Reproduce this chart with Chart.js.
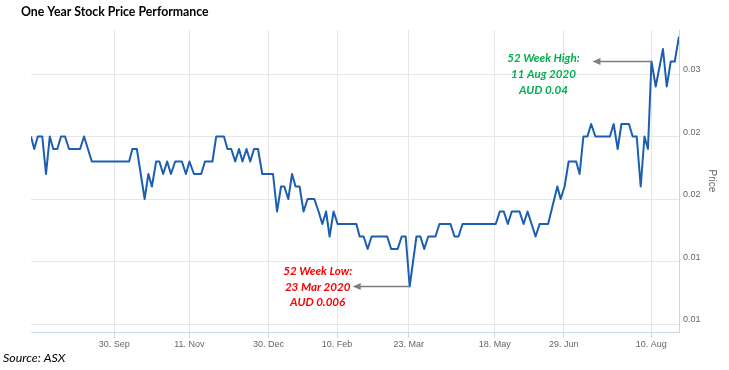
<!DOCTYPE html>
<html>
<head>
<meta charset="utf-8">
<script src="https://cdn.jsdelivr.net/npm/chart.js@4"></script>
<style>
  body { margin: 0; background: #fff; }
  #wrap { width: 729px; height: 370px; }
</style>
</head>
<body>
<div id="wrap"><canvas id="priceChart" width="729" height="370"></canvas></div>
<script>
// trading day index (x) and closing price in AUD (y)
const dayIndex = [
    0, 1.3, 2.7, 4.5, 6, 7.5, 8.9, 10.5, 12, 13.6, 15.2, 19.6, 21.2, 24.3,
    39.2, 40.5, 42.3, 45.4, 46.9, 48.3, 50, 51.3, 52.8, 54.4, 55.9, 57.6, 60.3, 61.9,
    63.3, 65.1, 68, 69.5, 72.5, 74, 77.1, 78.5, 80, 81.6, 83.1, 84.5, 86.1, 87.6,
    89.1, 90.7, 92.4, 96.7, 98.3, 99.9, 101.2, 102.8, 104.3, 105.7, 107.3, 108.9, 110.5,
    113.2, 114.9, 116.4, 117.9, 119.3, 120.9, 122.5, 130, 131.3, 132.9, 134.5, 136.1,
    142.3, 143.9, 146.5, 148.1, 149.7, 151.3, 154, 155.6, 157.1, 158.7, 161.6, 163.2,
    167.6, 169.2, 170.8, 172.4, 185.7, 187.3, 188.9, 190.5, 192.1, 195.2, 196.8, 198.4,
    200, 201.6, 203.2, 206.6, 210.3, 211.6, 213.2, 214.8, 217.8, 219.2, 220.7, 222.3,
    223.8, 225.5, 231.3, 232.8, 234.4, 235.9, 238.9, 240.4, 242, 243.6, 245.1, 246.5,
    247.9, 249.6, 252.5, 254, 255.6, 257.2, 258.9
];
const price = [
    0.020, 0.019, 0.020, 0.020, 0.017, 0.020, 0.019, 0.019, 0.020, 0.020, 0.019, 0.019, 0.020, 0.018,
    0.018, 0.019, 0.019, 0.015, 0.017, 0.016, 0.018, 0.018, 0.017, 0.018, 0.017, 0.018, 0.018, 0.017,
    0.018, 0.017, 0.017, 0.018, 0.018, 0.020, 0.020, 0.019, 0.019, 0.018, 0.019, 0.018, 0.019, 0.018,
    0.019, 0.019, 0.017, 0.017, 0.014, 0.016, 0.016, 0.015, 0.017, 0.016, 0.016, 0.014, 0.015,
    0.015, 0.014, 0.013, 0.014, 0.012, 0.014, 0.013, 0.013, 0.012, 0.012, 0.011, 0.012,
    0.012, 0.011, 0.011, 0.012, 0.012, 0.008, 0.012, 0.012, 0.011, 0.012, 0.012, 0.013,
    0.013, 0.012, 0.012, 0.013, 0.013, 0.014, 0.014, 0.013, 0.014, 0.014, 0.013, 0.014,
    0.013, 0.012, 0.013, 0.013, 0.016, 0.015, 0.016, 0.018, 0.018, 0.017, 0.020, 0.020,
    0.021, 0.020, 0.020, 0.021, 0.019, 0.021, 0.021, 0.020, 0.020, 0.016, 0.020, 0.019,
    0.026, 0.024, 0.027, 0.024, 0.026, 0.026, 0.028
];

const xTickPos = [33.3, 63.3, 94.9, 122.3, 150.9, 185.3, 212.9, 247.8];
const xTickLabels = ['30. Sep', '11. Nov', '30. Dec', '10. Feb', '23. Mar', '18. May', '29. Jun', '10. Aug'];
const yTickPos = [0.005, 0.01, 0.015, 0.02, 0.025];
const yTickLabels = ['0.01', '0.01', '0.02', '0.02', '0.03'];

const callouts = [
    { day: 247.9, price: 0.026, lines: ['52 Week High:', '11 Aug 2020', 'AUD 0.04'], color: '#00b050', arrow: 59, dx: -108, dy: -3 },
    { day: 151.3, price: 0.008, lines: ['52 Week Low:', '23 Mar 2020', 'AUD 0.006'], color: '#ff0000', arrow: 57, dx: -92, dy: -15.5 }
];

// titel, bron en pijlen met tekst
const extras = {
    id: 'extras',
    afterDraw(chart) {
        const ctx = chart.ctx;
        const xs = chart.scales.x, ys = chart.scales.y;
        ctx.save();
        ctx.fillStyle = '#000';
        ctx.textBaseline = 'middle';
        ctx.textAlign = 'left';
        ctx.font = 'bold 12.3px Lato';
        ctx.fillText('One Year Stock Price Performance', 21, 12);
        ctx.font = 'italic 12.4px Lato';
        ctx.fillText('Source: ASX', 3, 358);

        callouts.forEach(c => {
            const px = xs.getPixelForValue(c.day);
            const py = Math.round(ys.getPixelForValue(c.price)) - 0.5;
            const hx = px - c.arrow;
            ctx.strokeStyle = '#7f7f7f';
            ctx.fillStyle = '#7f7f7f';
            ctx.lineWidth = 1.5;
            ctx.beginPath();
            ctx.moveTo(px, py);
            ctx.lineTo(hx + 6, py);
            ctx.stroke();
            ctx.beginPath();
            ctx.moveTo(hx, py);
            ctx.lineTo(hx + 8, py - 3.5);
            ctx.lineTo(hx + 8, py + 3.5);
            ctx.closePath();
            ctx.fill();

            ctx.fillStyle = c.color;
            ctx.font = 'bold italic 11.6px Lato';
            ctx.textAlign = 'center';
            c.lines.forEach((t, i) => {
                ctx.fillText(t, px + c.dx, py + c.dy + i * 15.8);
            });
            ctx.textAlign = 'left';
        });
        ctx.restore();
    }
};

const ctx = document.getElementById('priceChart').getContext('2d');
const priceChart = new Chart(ctx, {
    type: 'line',
    data: {
        datasets: [{
            label: 'Price',
            data: dayIndex.map((d, i) => ({ x: d, y: price[i] })),
            borderColor: '#1c5fb0',
            borderWidth: 2,
            borderJoinStyle: 'round',
            pointRadius: 0,
            tension: 0,
            fill: false
        }]
    },
    options: {
        responsive: false,
        animation: false,
        layout: { padding: { left: 31, top: 30, right: 0, bottom: 18 } },
        plugins: {
            legend: { display: false },
            tooltip: { enabled: false }
        },
        scales: {
            x: {
                type: 'linear',
                min: 0,
                max: 258.9,
                afterBuildTicks: s => { s.ticks = xTickPos.map(v => ({ value: v })); },
                afterFit: s => { s.height = 20; },
                grid: { color: '#e6e6e6', tickColor: '#ccd6eb', tickLength: 6 },
                border: { color: '#ccd6eb' },
                ticks: {
                    autoSkip: false,
                    maxRotation: 0,
                    padding: 1,
                    color: '#666',
                    font: { family: 'Liberation Sans', size: 9 },
                    callback: (v, i) => xTickLabels[i]
                }
            },
            y: {
                position: 'right',
                min: 0.00436,
                max: 0.02852,
                afterBuildTicks: s => { s.ticks = yTickPos.map(v => ({ value: v })); },
                afterFit: s => { s.width = 50; },
                grid: { color: '#e6e6e6', drawTicks: false },
                border: { color: '#ccd6eb' },
                ticks: {
                    padding: 4,
                    labelOffset: -4,
                    color: '#666',
                    font: { family: 'Liberation Sans', size: 9 },
                    callback: (v, i) => yTickLabels[i]
                },
                title: {
                    display: true,
                    text: 'Price',
                    color: '#666',
                    padding: { top: 11, bottom: 0 },
                    font: { family: 'Liberation Sans', size: 10 }
                }
            }
        }
    },
    plugins: [extras]
});
</script>
</body>
</html>
